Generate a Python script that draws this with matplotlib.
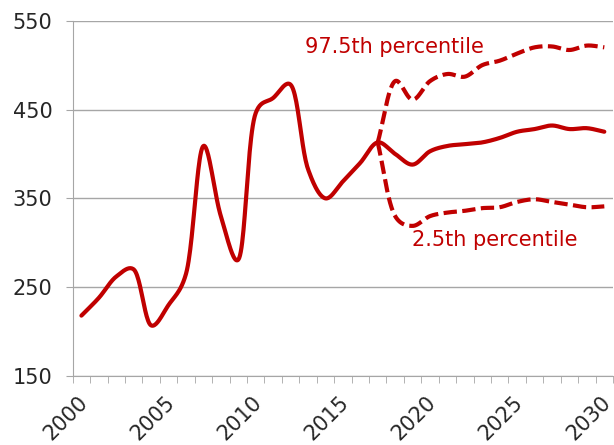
import matplotlib.pyplot as plt
import matplotlib.transforms as mtransforms
import numpy as np

years = list(range(2000, 2031))
central = [218, 238, 262, 270, 207, 230, 265, 409, 330, 281, 446, 463, 478, 383,
           350, 369, 390, 413, 400, 388, 403, 409, 411, 413, 418, 425, 428, 432,
           428, 429, 425]
# percentile bands start from the 2017 value
band_years = list(range(2017, 2031))
upper = [413, 482, 461, 482, 490, 487, 500, 505, 513, 520, 521, 517, 522, 520]
lower = [413, 330, 319, 330, 334, 336, 339, 340, 346, 349, 346, 343, 340, 341]

red = '#C00000'
grey = '#A6A6A6'

# rough pixel size of one x step and one y unit, so the smoothing looks right
SX, SY = 17.4, 0.8875


def smooth(x, y, n=24, alpha=0.3):
    """Catmull-Rom through the points (Excel-like smoothed line)."""
    P = np.column_stack([np.asarray(x, float) * SX, np.asarray(y, float) * SY])
    P = np.vstack([2 * P[0] - P[1], P, 2 * P[-1] - P[-2]])
    out = []
    for i in range(1, len(P) - 2):
        p0, p1, p2, p3 = P[i - 1], P[i], P[i + 1], P[i + 2]
        t0 = 0.0
        t1 = t0 + np.linalg.norm(p1 - p0) ** alpha
        t2 = t1 + np.linalg.norm(p2 - p1) ** alpha
        t3 = t2 + np.linalg.norm(p3 - p2) ** alpha
        t = np.linspace(t1, t2, n, endpoint=False)[:, None]
        a1 = (t1 - t) / (t1 - t0) * p0 + (t - t0) / (t1 - t0) * p1
        a2 = (t2 - t) / (t2 - t1) * p1 + (t - t1) / (t2 - t1) * p2
        a3 = (t3 - t) / (t3 - t2) * p2 + (t - t2) / (t3 - t2) * p3
        b1 = (t2 - t) / (t2 - t0) * a1 + (t - t0) / (t2 - t0) * a2
        b2 = (t3 - t) / (t3 - t1) * a2 + (t - t1) / (t3 - t1) * a3
        out.append((t2 - t) / (t2 - t1) * b1 + (t - t1) / (t2 - t1) * b2)
    out.append(P[-2][None, :])
    pts = np.vstack(out)
    return pts[:, 0] / SX, pts[:, 1] / SY


fig = plt.figure(figsize=(6.14, 4.45), dpi=100)
ax = fig.add_axes([0.1184, 0.155, 0.88, 0.7985])

idx = np.arange(len(years))
bidx = np.array([years.index(y) for y in band_years])

sx, sy = smooth(idx, central)
ax.plot(sx, sy, color=red, lw=3, solid_capstyle='round', zorder=3)
for band in (upper, lower):
    bx, by = smooth(bidx, band)
    ax.plot(bx, by, color=red, lw=3, dashes=(3.2, 1.3), zorder=3)

ax.set_xlim(-0.5, len(years) - 0.5)
ax.set_ylim(150, 550)
ax.set_yticks([150, 250, 350, 450, 550])
ax.yaxis.grid(True, color=grey, lw=1)
ax.set_axisbelow(True)

ax.set_xticks(idx[::5])
ax.set_xticklabels([str(y) for y in years[::5]], rotation=45, ha='right',
                   va='top', rotation_mode='anchor')
ax.set_xticks(np.arange(-0.5, len(years)), minor=True)
ax.tick_params(axis='x', which='major', length=0, pad=12, labelsize=15,
               labelcolor='#262626')
ax.tick_params(axis='x', which='minor', length=5, color=grey, direction='out')
ax.tick_params(axis='y', length=5, color=grey, labelsize=15,
               labelcolor='#262626', pad=9.5)
shift = mtransforms.ScaledTranslation(-4 / 100, 0, fig.dpi_scale_trans)
for lab in ax.get_xticklabels():
    lab.set_transform(lab.get_transform() + shift)

for s in ('top', 'right'):
    ax.spines[s].set_visible(False)
for s in ('left', 'bottom'):
    ax.spines[s].set_color(grey)

ax.text(17.94, 520.5, '97.5th percentile', color=red,
        fontsize=15, ha='center', va='center')
ax.text(23.74, 303, '2.5th percentile', color=red,
        fontsize=15, ha='center', va='center')

fig.savefig('out.png', dpi=100)
